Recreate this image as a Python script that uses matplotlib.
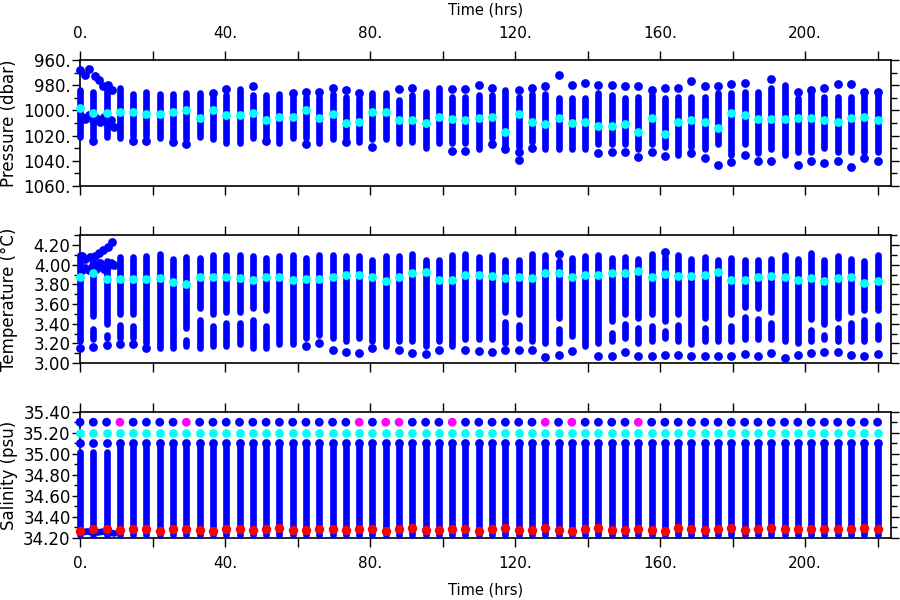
import numpy as np
import matplotlib
matplotlib.use("Agg")
import matplotlib.pyplot as plt
from matplotlib.ticker import MultipleLocator, FuncFormatter

# sampling times of the casts (hrs)
t_hrs = [0.0, 3.67, 7.33, 11.0, 14.67, 18.33, 22.0, 25.67, 29.33, 33.0,
         36.67, 40.33, 44.0, 47.67, 51.33, 55.0, 58.67, 62.33, 66.0, 69.67,
         73.33, 77.0, 80.67, 84.33, 88.0, 91.67, 95.33, 99.0, 102.67, 106.33,
         110.0, 113.67, 117.33, 121.0, 124.67, 128.33, 132.0, 135.67, 139.33, 143.0,
         146.67, 150.33, 154.0, 157.67, 161.33, 165.0, 168.67, 172.33, 176.0, 179.67,
         183.33, 187.0, 190.67, 194.33, 198.0, 201.67, 205.33, 209.0, 212.67, 216.33, 220.0]

# pressure (dbar): continuous range of each cast, mean, isolated points
p_top = [984, 985, 982, 982, 987, 985, 987, 987, 986, 986,
         989, 988, 983, 988, 988, 987, 989, 989, 989, 987,
         989, 990, 986, 986, 992, 988, 985, 982, 989, 989,
         988, 988, 984, 989, 987, 987, 990, 990, 990, 986,
         988, 990, 989, 988, 990, 989, 989, 989, 986, 986,
         985, 985, 982, 980, 990, 986, 989, 989, 989, 988, 988]
p_bot = [1021, 1021, 1021, 1022, 1020, 1020, 1022, 1022, 1023, 1021,
         1023, 1026, 1026, 1022, 1023, 1026, 1022, 1022, 1026, 1023,
         1022, 1025, 1023, 1023, 1026, 1025, 1030, 1026, 1026, 1026,
         1031, 1022, 1029, 1029, 1025, 1031, 1031, 1031, 1031, 1027,
         1027, 1027, 1031, 1027, 1029, 1035, 1029, 1031, 1027, 1035,
         1027, 1034, 1031, 1035, 1033, 1033, 1030, 1033, 1033, 1033, 1033]
p_mean = [998, 1002, 1002, 1001, 1001, 1003, 1003, 1001, 1000, 1006,
          1000, 1004, 1004, 1002, 1008, 1005, 1005, 1000, 1006, 1003,
          1010, 1009, 1001, 1001, 1008, 1008, 1010, 1005, 1007, 1008,
          1006, 1005, 1017, 1003, 1009, 1011, 1006, 1010, 1009, 1012,
          1012, 1011, 1017, 1006, 1019, 1009, 1008, 1009, 1014, 1002,
          1004, 1007, 1007, 1007, 1006, 1006, 1008, 1009, 1006, 1005, 1008]
p_hi_col = [10, 11, 13, 16, 17, 18, 19, 20, 21, 24, 25, 28, 29, 30, 31, 33, 34, 35, 36, 37,
            38, 39, 40, 41, 42, 43, 44, 45, 46, 47, 48, 49, 50, 52, 54, 55, 56, 57, 58, 59, 60]
p_hi_val = [986, 983, 981, 986, 985, 985, 982, 984, 986, 983, 982, 983, 983, 980, 982, 984, 982, 981, 972, 980,
            978, 980, 980, 981, 981, 984, 982, 982, 977, 981, 981, 979, 978, 975, 985, 984, 982, 979, 979, 985, 985]
p_lo_col = [1, 4, 5, 7, 8, 14, 17, 20, 22, 28, 29, 31, 32, 33, 33, 34, 39, 40, 41, 42, 43, 44,
            46, 47, 48, 49, 50, 51, 52, 54, 55, 56, 57, 58, 59, 60]
p_lo_val = [1024, 1024, 1024, 1025, 1027, 1024, 1027, 1025, 1029, 1032, 1032, 1027, 1031, 1033, 1039, 1030,
            1034, 1033, 1033, 1037, 1033, 1036, 1034, 1038, 1043, 1041, 1035, 1040, 1040, 1043, 1040, 1042,
            1040, 1045, 1038, 1040]
p_trace_t = [0.0, 1.4, 2.5, 4.1, 5.2, 6.4, 7.6, 8.7,
             0.5, 1.5, 2.5, 3.5, 4.5, 5.5, 6.5, 7.5, 8.5, 9.3]
p_trace_v = [968, 972, 967, 973, 976, 981, 980, 984,
             1005, 1007, 1004, 1008, 1006, 1009, 1005, 1010, 1008, 1013]

# temperature (deg C)
t_top = [4.10, 4.04, 4.04, 4.08, 4.08, 4.09, 4.11, 4.06, 4.08, 4.07,
         4.10, 4.10, 4.10, 4.09, 4.07, 4.09, 4.10, 4.07, 4.10, 4.10,
         4.09, 4.09, 4.05, 4.09, 4.09, 4.11, 4.05, 4.05, 4.10, 4.11,
         4.08, 4.10, 4.05, 4.05, 4.11, 4.10, 4.04, 4.07, 4.09, 4.10,
         4.07, 4.08, 4.06, 4.11, 4.08, 4.10, 4.06, 4.08, 4.05, 4.07,
         4.05, 4.05, 4.06, 4.10, 4.06, 4.12, 4.05, 4.09, 4.06, 4.04, 4.10]
t_low = [3.22, 3.24, 3.25, 3.25, 3.25, 3.20, 3.15, 3.15, 3.17, 3.15,
         3.17, 3.17, 3.19, 3.15, 3.15, 3.19, 3.19, 3.25, 3.29, 3.25,
         3.22, 3.25, 3.22, 3.17, 3.22, 3.22, 3.17, 3.22, 3.17, 3.24,
         3.24, 3.24, 3.20, 3.25, 3.22, 3.20, 3.20, 3.27, 3.17, 3.20,
         3.22, 3.25, 3.20, 3.22, 3.25, 3.22, 3.19, 3.22, 3.22, 3.22,
         3.24, 3.24, 3.24, 3.22, 3.20, 3.22, 3.24, 3.22, 3.22, 3.22, 3.24]
t_bot_dot = [3.15, 3.16, 3.18, 3.19, 3.19, 3.15, np.nan, np.nan, np.nan, np.nan,
             np.nan, np.nan, np.nan, np.nan, np.nan, np.nan, np.nan, 3.17, 3.20, 3.13,
             3.11, 3.10, 3.15, np.nan, 3.13, 3.10, 3.09, 3.13, np.nan, 3.13,
             3.12, 3.11, 3.13, 3.13, 3.13, 3.06, 3.08, 3.12, np.nan, 3.07,
             3.07, 3.11, 3.07, 3.07, 3.08, 3.08, 3.07, 3.07, 3.07, 3.07,
             3.09, 3.07, 3.10, 3.05, 3.08, 3.10, 3.11, 3.11, 3.08, 3.07, 3.09]
t_mean = [3.88, 3.92, 3.855, 3.855, 3.855, 3.855, 3.87, 3.82, 3.80, 3.88,
          3.88, 3.88, 3.87, 3.85, 3.88, 3.88, 3.85, 3.86, 3.86, 3.88,
          3.90, 3.90, 3.88, 3.83, 3.88, 3.92, 3.93, 3.85, 3.85, 3.90,
          3.90, 3.89, 3.865, 3.875, 3.865, 3.92, 3.92, 3.88, 3.90, 3.90,
          3.92, 3.92, 3.94, 3.88, 3.91, 3.89, 3.89, 3.90, 3.93, 3.85,
          3.84, 3.875, 3.89, 3.88, 3.84, 3.87, 3.83, 3.87, 3.88, 3.81, 3.83]
t_gap_col = [1, 2, 3, 4, 8, 9, 10, 11, 12, 13, 14, 32, 33, 36, 40, 41, 42, 43, 44, 45,
             47, 49, 50, 51, 52, 55, 56, 57, 58, 59, 60]
t_gap_hi = [3.44, 3.36, 3.47, 3.46, 3.32, 3.53, 3.46, 3.49, 3.49, 3.53, 3.51, 3.49, 3.47, 3.42, 3.39,
            3.47, 3.42, 3.46, 3.39, 3.47, 3.42, 3.46, 3.54, 3.53, 3.49, 3.41, 3.36, 3.42, 3.49, 3.51, 3.51]
t_gap_lo = [3.38, 3.32, 3.42, 3.41, 3.27, 3.47, 3.41, 3.44, 3.44, 3.47, 3.41, 3.45, 3.42, 3.38, 3.34,
            3.43, 3.39, 3.41, 3.36, 3.42, 3.39, 3.41, 3.50, 3.48, 3.44, 3.37, 3.32, 3.39, 3.44, 3.47, 3.42]
t_hi_col = [36, 44]
t_hi_val = [4.11, 4.13]
t_trace_t = [0.5, 1.5, 2.8, 4.0, 5.2, 6.4, 7.6, 8.7,
             0.5, 1.5, 2.5, 3.5, 4.5, 5.5, 6.5, 7.5, 8.5, 9.3]
t_trace_v = [4.09, 4.06, 4.08, 4.09, 4.12, 4.15, 4.18, 4.23,
             3.95, 3.97, 3.95, 4.00, 3.96, 4.02, 3.96, 3.98, 4.02, 4.00]

# salinity (psu)
s_band_top = [35.02, 35.02, 35.02] + [35.07] * 58
s_band_bot = 34.23
s_dot_hi = 35.30
s_dot_mid = 35.20
s_dot_lo = 35.10
s_magenta_col = [3, 8, 21, 23, 24, 28, 35, 37, 42]
s_red = [34.263, 34.282, 34.279, 34.273, 34.279, 34.282, 34.263, 34.282, 34.282, 34.273,
         34.267, 34.279, 34.279, 34.273, 34.282, 34.289, 34.273, 34.273, 34.279, 34.279,
         34.273, 34.282, 34.279, 34.267, 34.279, 34.295, 34.273, 34.273, 34.282, 34.279,
         34.267, 34.282, 34.289, 34.273, 34.273, 34.295, 34.273, 34.267, 34.282, 34.289,
         34.273, 34.273, 34.282, 34.273, 34.267, 34.289, 34.282, 34.273, 34.279, 34.289,
         34.273, 34.279, 34.289, 34.279, 34.279, 34.282, 34.282, 34.282, 34.282, 34.289, 34.282]
s_trace_t = [0.5, 2.0, 3.5, 5.0, 6.5, 8.0, 9.5]
s_trace_v = [34.25, 34.26, 34.25, 34.25, 34.26, 34.25, 34.24]

BLUE = "#0000ff"
CYAN = "#00ffff"
LW = 4.8
S = 40

t = np.array(t_hrs)


def setup(ax, ylim, major, minor, fmt):
    ax.set_xlim(0, 223.7)
    ax.set_ylim(*ylim)
    ax.xaxis.set_major_locator(MultipleLocator(40))
    ax.xaxis.set_minor_locator(MultipleLocator(20))
    ax.xaxis.set_major_formatter(FuncFormatter(lambda v, p: f"{v:.0f}."))
    ax.yaxis.set_major_locator(MultipleLocator(major))
    ax.yaxis.set_minor_locator(MultipleLocator(minor))
    ax.yaxis.set_major_formatter(FuncFormatter(fmt))
    ax.tick_params(axis="x", which="both", direction="out", top=True, bottom=True,
                   length=6.5, width=1, labelbottom=False, labelsize=11, pad=7)
    ax.tick_params(axis="y", which="major", direction="out", left=True, right=True,
                   length=5.8, width=1, labelsize=12, pad=1)
    ax.tick_params(axis="y", which="minor", direction="out", left=True, right=True,
                   length=4, width=1)
    for sp in ax.spines.values():
        sp.set_linewidth(1.2)


def dots(ax, x, y, color=BLUE, s=S, z=4):
    ax.scatter(x, y, s=s, c=color, linewidths=0, zorder=z, clip_on=False)


fig = plt.figure(figsize=(9, 6), dpi=100)
ax_p = fig.add_axes([0.0889, 0.69, 0.9011, 0.21])
ax_t = fig.add_axes([0.0889, 0.395, 0.9011, 0.2128])
ax_s = fig.add_axes([0.0889, 0.1038, 0.9011, 0.21])

# pressure
setup(ax_p, (1060, 960), 20, 10, lambda v, p: f"{v:.0f}.")
ax_p.vlines(t, p_top, p_bot, colors=BLUE, linewidth=LW, capstyle="round", zorder=3, clip_on=False)
dots(ax_p, t[p_hi_col], p_hi_val)
dots(ax_p, t[p_lo_col], p_lo_val)
dots(ax_p, p_trace_t, p_trace_v)
dots(ax_p, t, p_mean, CYAN, z=5)
ax_p.tick_params(axis="x", labeltop=True)

# temperature: each cast split into two pieces around its gap
setup(ax_t, (3.0, 4.3), 0.2, 0.1, lambda v, p: f"{v:.2f}")
cap = (LW / 2) * 100 / 72 / (0.2128 * 600 / 1.3)  # round-cap radius in deg C
seg_x, seg_lo, seg_hi = [], [], []
for i in range(len(t)):
    if i in t_gap_col:
        j = t_gap_col.index(i)
        seg_x += [t[i], t[i]]
        seg_lo += [t_gap_hi[j] + cap, t_low[i]]
        seg_hi += [t_top[i], t_gap_lo[j] - cap]
    else:
        seg_x.append(t[i])
        seg_lo.append(t_low[i])
        seg_hi.append(t_top[i])
ax_t.vlines(seg_x, seg_lo, seg_hi, colors=BLUE, linewidth=LW, capstyle="round", zorder=3, clip_on=False)
dots(ax_t, t, t_bot_dot)
dots(ax_t, t[t_hi_col], t_hi_val)
dots(ax_t, t_trace_t, t_trace_v)
dots(ax_t, t, t_mean, CYAN, z=5)

# salinity
setup(ax_s, (34.2, 35.4), 0.2, 0.1, lambda v, p: f"{v:.2f}")
ax_s.vlines(t, s_band_bot, s_band_top, colors=BLUE, linewidth=LW, capstyle="round", zorder=3, clip_on=False)
hi_colors = [("#ff00ff" if i in s_magenta_col else BLUE) for i in range(len(t))]
dots(ax_s, t, [s_dot_hi] * len(t), hi_colors)
dots(ax_s, t, [s_dot_mid] * len(t), CYAN)
dots(ax_s, t, [s_dot_lo] * len(t))
ax_s.plot(s_trace_t, s_trace_v, color=BLUE, lw=LW, solid_capstyle="round", zorder=3, clip_on=False)
dots(ax_s, t, s_red, "#ff0000", s=46, z=5)
ax_s.tick_params(axis="x", labelbottom=True)

fig.text(0.5394, 1 - 10 / 600, "Time (hrs)", ha="center", va="center", fontsize=10.5)
fig.text(0.5394, 1 - 590 / 600, "Time (hrs)", ha="center", va="center", fontsize=10.5)
fig.text(0.01, 1 - 123 / 600, "Pressure (dbar)", rotation=90, ha="center", va="center", fontsize=12)
fig.text(0.01, 1 - 299 / 600, "Temperature (°C)", rotation=90, ha="center", va="center", fontsize=12)
fig.text(0.01, 1 - 475 / 600, "Salinity (psu)", rotation=90, ha="center", va="center", fontsize=12)

fig.savefig("out.png", dpi=100)
